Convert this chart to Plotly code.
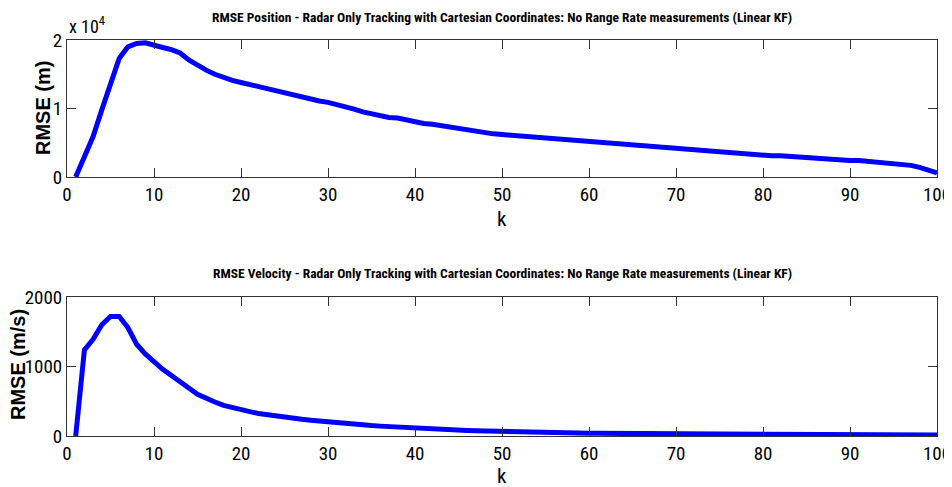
import plotly.graph_objects as go
from plotly.subplots import make_subplots

k = list(range(1, 101))

# Position RMSE in metres (axis is x 10^4)
pos_rmse = [
    0, 2800, 5900, 9800, 13700, 17300, 19000, 19500, 19600, 19200,
    18900, 18600, 18100, 17100, 16300, 15600, 15000, 14500, 14100, 13800,
    13500, 13100, 12900, 12500, 12200, 11900, 11700, 11300, 11100, 10900,
    10600, 10200, 9900, 9500, 9200, 8900, 8700, 8600, 8300, 8000,
    7800, 7700, 7500, 7300, 7100, 6800, 6600, 6400, 6300, 6200,
    6100, 6000, 5900, 5700, 5600, 5500, 5400, 5300, 5200, 5100,
    5000, 5000, 4900, 4800, 4700, 4600, 4500, 4400, 4300, 4200,
    4100, 4000, 3900, 3800, 3700, 3600, 3500, 3400, 3300, 3200,
    3100, 3100, 3000, 2900, 2800, 2800, 2700, 2600, 2500, 2400,
    2400, 2300, 2200, 2100, 2000, 1900, 1700, 1400, 1000, 600,
]

# Velocity RMSE in m/s
vel_rmse = [
    0, 1238, 1390, 1600, 1720, 1720, 1560, 1320, 1180, 1060,
    960, 870, 790, 690, 600, 540, 490, 440, 405, 375,
    350, 325, 305, 285, 270, 255, 240, 228, 215, 200,
    190, 178, 168, 158, 150, 142, 134, 126, 118, 112,
    106, 100, 94, 88, 83, 79, 75, 71, 67, 64,
    61, 58, 55, 52, 50, 48, 46, 44, 42, 40,
    38, 37, 36, 35, 33, 32, 31, 30, 29, 28,
    27, 26, 26, 25, 24, 23, 23, 22, 22, 21,
    20, 20, 19, 19, 18, 18, 17, 17, 17, 16,
    16, 16, 15, 15, 15, 14, 14, 14, 13, 13,
]

x_ticks = [0, 10, 20, 30, 40, 50, 60, 70, 80, 90, 100]
pos_ticks = [0, 10000, 20000]
pos_ticktext = ["0", "1", "2"]
vel_ticks = [0, 1000, 2000]
vel_ticktext = ["0", "1000", "2000"]

title_pos = "RMSE Position - Radar Only Tracking with Cartesian Coordinates: No Range Rate measurements (Linear KF)"
title_vel = "RMSE Velocity - Radar Only Tracking with Cartesian Coordinates: No Range Rate measurements (Linear KF)"

NARROW = "Roboto Condensed, Open Sans Condensed, sans-serif"
WIDE = "Liberation Sans, Arial, sans-serif"

# the page body adds an 8px offset; figure sized to the remaining window
OFF = 8
W, H = 952 - OFF, 487 - OFF
# target plot-area edges in screenshot pixels
X0, X1 = 67, 937
TOP_Y0, TOP_Y1 = 40, 177
BOT_Y0, BOT_Y1 = 297, 436

ml = X0 - OFF
mr = W - (X1 - OFF)
mt = TOP_Y0 - OFF
mb = H - (BOT_Y1 - OFF)
pw = W - ml - mr
ph = H - mt - mb


def px(x):
    return (x - OFF - ml) / pw


def py(y):
    return 1 - (y - OFF - mt) / ph


top_dom = [py(TOP_Y1), 1.0]
bot_dom = [0.0, py(BOT_Y0)]

fig = make_subplots(rows=2, cols=1)
fig.add_trace(go.Scatter(x=k, y=pos_rmse, mode="lines",
                         line=dict(color="#0000FF", width=5), showlegend=False), row=1, col=1)
fig.add_trace(go.Scatter(x=k, y=vel_rmse, mode="lines",
                         line=dict(color="#0000FF", width=5), showlegend=False), row=2, col=1)

tickfont = dict(family=NARROW, size=19, color="black")
axis_common = dict(showgrid=False, zeroline=False, showline=True, linecolor="#333333",
                   linewidth=1, mirror="ticks", ticks="inside", ticklen=9,
                   tickcolor="#333333", automargin=False, tickfont=tickfont,
                   ticklabeloverflow="allow")

fig.update_xaxes(range=[0, 100], tickvals=x_ticks, ticktext=[str(v) for v in x_ticks],
                 domain=[0, 1], **axis_common)
fig.update_yaxes(range=[0, 20000], tickvals=pos_ticks, ticktext=pos_ticktext,
                 domain=top_dom, row=1, col=1, **axis_common)
fig.update_yaxes(range=[0, 2000], tickvals=vel_ticks, ticktext=vel_ticktext,
                 domain=bot_dom, row=2, col=1, **axis_common)

annos = [
    dict(text=f"<b>{title_pos}</b>", x=px(502), y=py(17), font=dict(family=NARROW, size=13.5, color="black")),
    dict(text=f"<b>{title_vel}</b>", x=px(502), y=py(273), font=dict(family=NARROW, size=13.5, color="black")),
    dict(text="k", x=px(502), y=py(219), font=dict(family=NARROW, size=21, color="black")),
    dict(text="k", x=px(502), y=py(476), font=dict(family=NARROW, size=21, color="black")),
    dict(text="<b>RMSE (m)</b>", x=px(43), y=py(108), textangle=-90,
         font=dict(family=WIDE, size=20, color="black")),
    dict(text="<b>RMSE (m/s)</b>", x=px(18), y=py(365), textangle=-90,
         font=dict(family=WIDE, size=20, color="black")),
]
for a in annos:
    a.update(xref="paper", yref="paper", showarrow=False, xanchor="center", yanchor="middle")
fig.update_layout(annotations=annos)
fig.add_annotation(text="x 10<sup>4</sup>", x=0, xref="paper",
                   y=1, yref="paper", xanchor="left", yanchor="bottom",
                   showarrow=False, yshift=1,
                   font=dict(family=NARROW, size=18, color="black"))

fig.update_layout(width=W, height=H, margin=dict(l=ml, r=mr, t=mt, b=mb),
                  paper_bgcolor="white", plot_bgcolor="white")

fig.write_html("out.html")
